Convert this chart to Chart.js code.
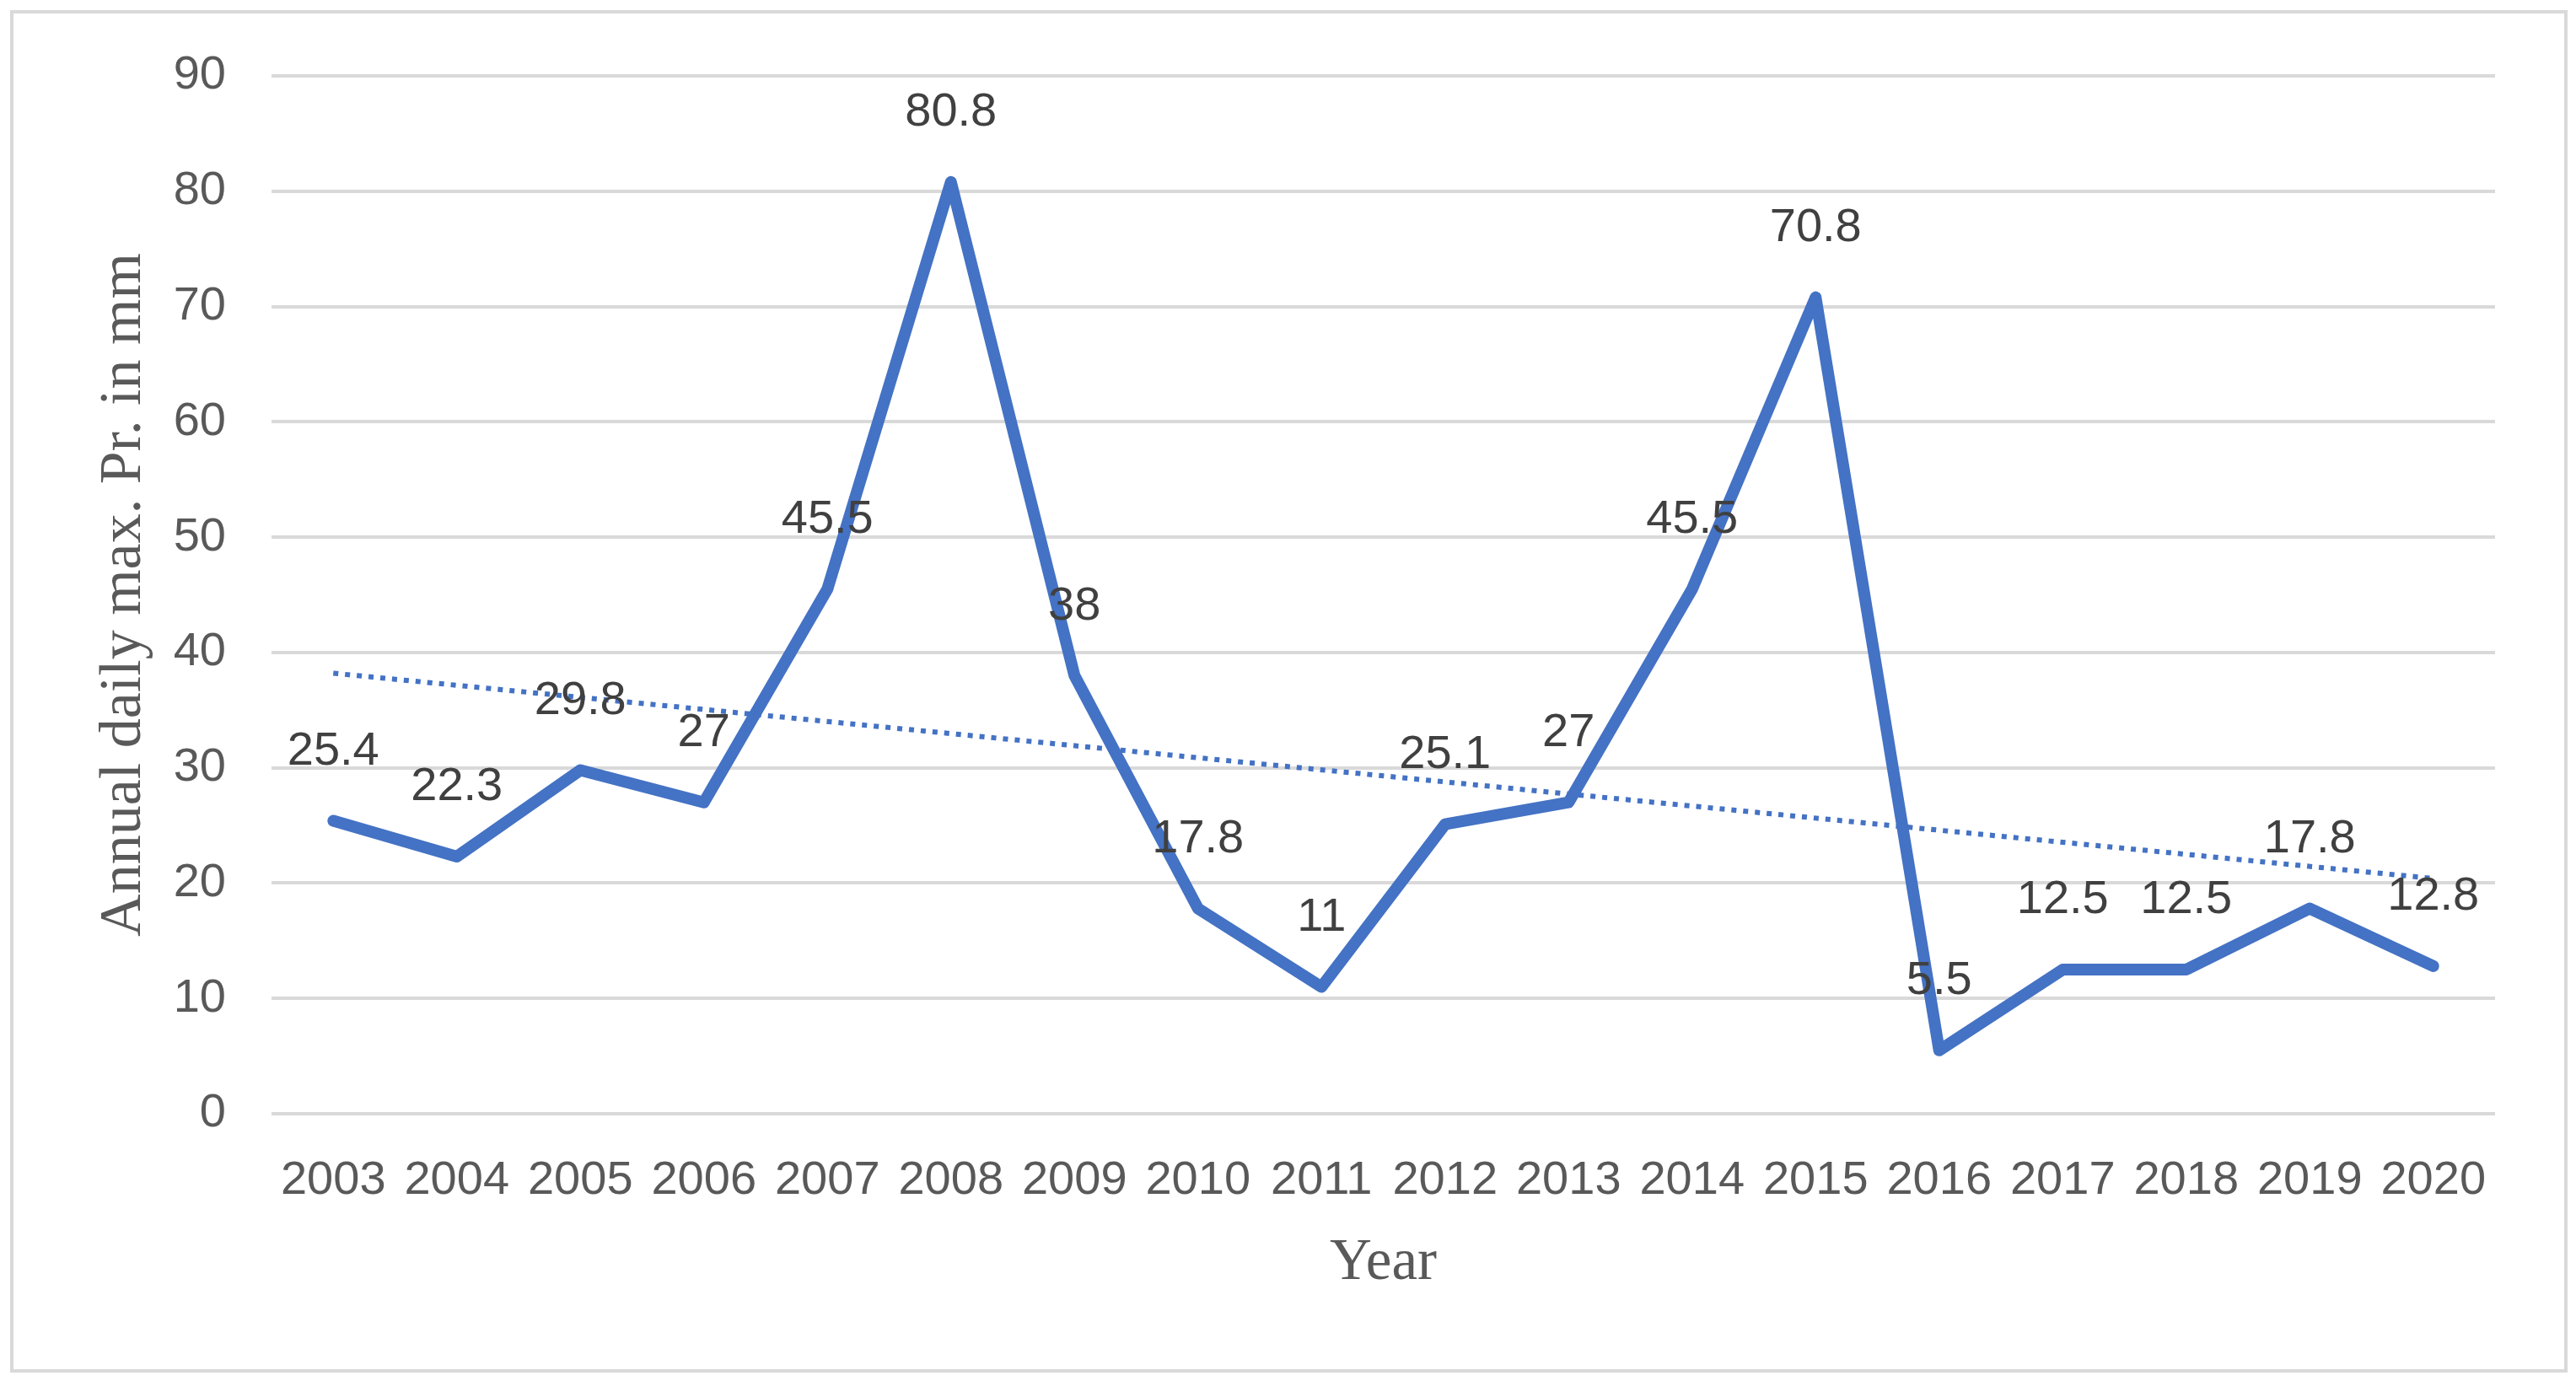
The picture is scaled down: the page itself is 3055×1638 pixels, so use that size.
<!DOCTYPE html>
<html>
<head>
<meta charset="utf-8">
<script src="https://cdn.jsdelivr.net/npm/chart.js@4/dist/chart.umd.min.js"></script>
<style>
  html, body { margin: 0; padding: 0; background: #ffffff; }
  #wrap { position: relative; width: 3055px; height: 1638px; }
  #c { position: absolute; left: 0; top: 0; }
  #frame { position: absolute; left: 12px; top: 12px; width: 3033px; height: 1616px;
           box-sizing: border-box; border: 4px solid #d9d9d9; pointer-events: none; }
</style>
</head>
<body>
<div id="wrap">
  <canvas id="c" width="3055" height="1638"></canvas>
  <div id="frame"></div>
</div>
<script>
// ---- data ----
const years = ['2003','2004','2005','2006','2007','2008','2009','2010','2011','2012','2013','2014','2015','2016','2017','2018','2019','2020'];
const maxPrecip = [25.4, 22.3, 29.8, 27, 45.5, 80.8, 38, 17.8, 11, 25.1, 27, 45.5, 70.8, 5.5, 12.5, 12.5, 17.8, 12.8];
const trendYears = ['2003', '2020'];
const trendValues = [38.2, 20.4];
const yMin = 0, yMax = 90, yStep = 10;

const BLUE = '#4472C4';

const valueLabels = {
  id: 'valueLabels',
  afterDatasetsDraw(chart) {
    const ctx = chart.ctx;
    const idx = chart.data.datasets.findIndex(d => d.id === 'main');
    const meta = chart.getDatasetMeta(idx);
    const ds = chart.data.datasets[idx];
    ctx.save();
    ctx.font = '56px "Liberation Sans", Arial, sans-serif';
    ctx.fillStyle = '#404040';
    ctx.textAlign = 'center';
    ctx.textBaseline = 'middle';
    meta.data.forEach((pt, i) => {
      ctx.fillText(String(ds.data[i]), pt.x, pt.y - 82);
    });
    ctx.restore();
  }
};

new Chart(document.getElementById('c'), {
  type: 'line',
  data: {
    labels: years,
    datasets: [
      {
        id: 'trend',
        order: 0,
        data: trendYears.map((y, i) => ({ x: y, y: trendValues[i] })),
        borderColor: BLUE,
        borderWidth: 6,
        borderDash: [6, 8],
        pointRadius: 0,
        fill: false,
        tension: 0
      },
      {
        id: 'main',
        order: 1,
        data: maxPrecip,
        borderColor: BLUE,
        borderWidth: 14,
        borderJoinStyle: 'round',
        borderCapStyle: 'round',
        pointRadius: 0,
        fill: false,
        tension: 0
      }
    ]
  },
  options: {
    responsive: false,
    devicePixelRatio: 1,
    animation: false,
    layout: { padding: { top: 90, right: 96, left: 0, bottom: 0 } },
    plugins: { legend: { display: false }, tooltip: { enabled: false } },
    scales: {
      x: {
        type: 'category',
        offset: true,
        grid: { display: false, drawTicks: false },
        border: { display: false },
        ticks: {
          color: '#595959',
          font: { family: '"Liberation Sans", Arial, sans-serif', size: 56 },
          padding: 46,
          maxRotation: 0,
          autoSkip: false
        },
        title: {
          display: true,
          text: 'Year',
          color: '#595959',
          font: { family: '"Liberation Serif", "Times New Roman", serif', size: 69 },
          padding: { top: 0, bottom: 98 }
        },
        afterFit(scale) { scale.height = 317; }
      },
      y: {
        min: yMin,
        max: yMax,
        grid: { color: '#d9d9d9', lineWidth: 4, drawTicks: false },
        border: { display: false },
        ticks: {
          stepSize: yStep,
          color: '#595959',
          font: { family: '"Liberation Sans", Arial, sans-serif', size: 56 },
          padding: 54
        },
        title: {
          display: true,
          text: 'Annual daily max. Pr. in mm',
          color: '#595959',
          font: { family: '"Liberation Serif", "Times New Roman", serif', size: 70 },
          padding: { top: 106, bottom: 0 }
        },
        afterFit(scale) { scale.width = 322; }
      }
    }
  },
  plugins: [valueLabels]
});
</script>
</body>
</html>
